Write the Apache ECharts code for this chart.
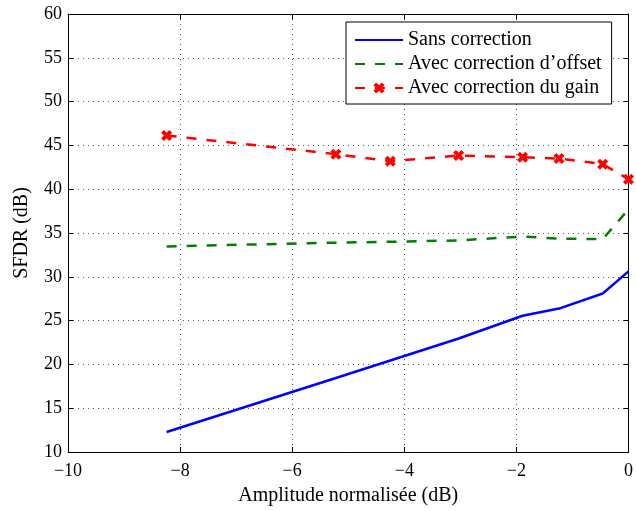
<!DOCTYPE html>
<html><head><meta charset="utf-8">
<script src="https://cdn.jsdelivr.net/npm/echarts@6/dist/echarts.min.js"></script>
<style>html,body{margin:0;padding:0;background:#fff;overflow:hidden}#c{width:636px;height:511px}</style>
</head><body><div id="c"></div>
<script>
const xVals = [-8.24, -5.22, -4.25, -3.03, -1.89, -1.24, -0.46, 0];
const sansCorrection = [12.28, 18.45, 20.45, 22.96, 25.55, 26.37, 28.1, 30.62];
const correctionOffset = [33.47, 33.9, 34.0, 34.15, 34.6, 34.35, 34.3, 37.7];
const correctionGain = [46.13, 44.0, 43.2, 43.84, 43.65, 43.5, 42.86, 41.14];
const seriesNames = ['Sans correction', "Avec correction d\u2019offset", 'Avec correction du gain'];
const xTitle = 'Amplitude normalis\u00e9e (dB)';
const yTitle = 'SFDR (dB)';

const font = 'Liberation Serif';
const pair = arr => xVals.map((x, i) => [x, arr[i]]);
const minus = v => String(v).replace('-', '\u2212');
const xMark = 'path://M0,2.5 L2.5,0 L5,2.5 L7.5,0 L10,2.5 L7.5,5 L10,7.5 L7.5,10 L5,7.5 L2.5,10 L0,7.5 L2.5,5 Z';

const chart = echarts.init(document.getElementById('c'));
const gridLine = {show: true, lineStyle: {color: '#555', type: [1, 4], width: 1}};
chart.setOption({
  animation: false,
  backgroundColor: '#fff',
  grid: {left: 68, right: 5, top: 14, bottom: 54},
  legend: {
    orient: 'vertical', left: 346, top: 22, width: 277,
    backgroundColor: '#fff', borderColor: '#000', borderWidth: 1,
    padding: [8, 10, 6, 8], itemGap: 4, itemWidth: 48, itemHeight: 14,
    textStyle: {fontFamily: font, fontSize: 20, color: '#000'},
    data: [
      {name: seriesNames[0], itemStyle: {opacity: 0}},
      {name: seriesNames[1], itemStyle: {opacity: 0}},
      {name: seriesNames[2]}
    ]
  },
  xAxis: [{
    type: 'value', min: -10, max: 0, interval: 2,
    name: xTitle, nameLocation: 'middle', nameGap: 34,
    nameTextStyle: {fontFamily: font, fontSize: 20, color: '#000'},
    axisLine: {show: true, onZero: false, lineStyle: {color: '#000', width: 1}},
    axisTick: {show: true, inside: true, length: 5, lineStyle: {color: '#000'}},
    axisLabel: {fontFamily: font, fontSize: 18, color: '#000', margin: 10, formatter: minus},
    splitLine: gridLine
  }, {
    type: 'value', min: -10, max: 0, interval: 2, position: 'top',
    axisLine: {show: true, onZero: false, lineStyle: {color: '#000', width: 1}},
    axisTick: {show: true, inside: true, length: 5, lineStyle: {color: '#000'}},
    axisLabel: {show: false}, splitLine: {show: false}
  }],
  yAxis: [{
    type: 'value', min: 10, max: 60, interval: 5,
    name: yTitle, nameLocation: 'middle', nameGap: 36,
    nameTextStyle: {fontFamily: font, fontSize: 20, color: '#000'},
    axisLine: {show: true, onZero: false, lineStyle: {color: '#000', width: 1}},
    axisTick: {show: true, inside: true, length: 5, lineStyle: {color: '#000'}},
    axisLabel: {fontFamily: font, fontSize: 18, color: '#000', margin: 6},
    splitLine: gridLine
  }, {
    type: 'value', min: 10, max: 60, interval: 5, position: 'right',
    axisLine: {show: true, onZero: false, lineStyle: {color: '#000', width: 1}},
    axisTick: {show: true, inside: true, length: 5, lineStyle: {color: '#000'}},
    axisLabel: {show: false}, splitLine: {show: false}
  }],
  series: [{
    name: seriesNames[0], type: 'line', data: pair(sansCorrection),
    showSymbol: false, symbol: 'none', color: '#0000ff',
    lineStyle: {color: '#0000ff', width: 2.5}
  }, {
    name: seriesNames[1], type: 'line', data: pair(correctionOffset),
    showSymbol: false, symbol: 'none', color: '#007f00',
    lineStyle: {color: '#007f00', width: 2.5, type: [10, 10]}
  }, {
    name: seriesNames[2], type: 'line', data: pair(correctionGain),
    symbol: xMark, symbolSize: 11, color: '#ff0000',
    itemStyle: {color: '#ff0000'},
    lineStyle: {color: '#ff0000', width: 2.5, type: [10, 10]}
  }]
});
</script></body></html>
